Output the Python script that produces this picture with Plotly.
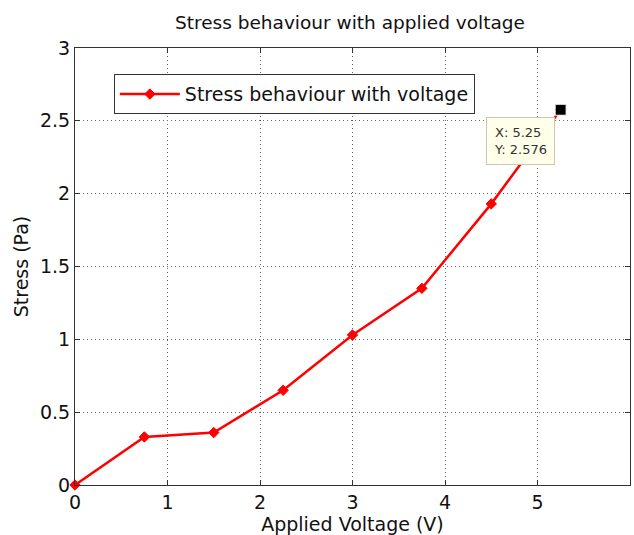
import plotly.graph_objects as go

voltage = [0, 0.75, 1.5, 2.25, 3.0, 3.75, 4.5, 5.25]
stress = [0, 0.33, 0.36, 0.65, 1.03, 1.35, 1.93, 2.576]
tip_x = 5.25
tip_y = 2.576
x_ticks = [0, 1, 2, 3, 4, 5, 6]
y_ticks = [0, 0.5, 1, 1.5, 2, 2.5, 3]
y_tick_text = ["0", "0.5", "1", "1.5", "2", "2.5", "3"]

font = "DejaVu Sans"
fig = go.Figure()
fig.add_trace(go.Scatter(
    x=voltage, y=stress, mode="lines+markers",
    name="Stress behaviour with voltage",
    line=dict(color="#ff0000", width=2.5),
    marker=dict(symbol="diamond", size=8, color="#ff0000",
                line=dict(color="#ff0000", width=1)),
    cliponaxis=False,
))
fig.add_trace(go.Scatter(
    x=[tip_x], y=[tip_y], mode="markers", showlegend=False,
    marker=dict(symbol="square", size=11, color="black",
                line=dict(color="white", width=1)),
    cliponaxis=False,
))
fig.add_annotation(
    x=4.445, y=2.526, xref="x", yref="y",
    text=f"X: {tip_x}<br>Y: {tip_y}", showarrow=False,
    xanchor="left", yanchor="top",
    align="left", font=dict(family=font, size=13, color="#333"),
    bgcolor="#ffffea", bordercolor="#c8c8b4", borderwidth=1, borderpad=7,
)
axis_common = dict(
    showline=True, linecolor="#333", linewidth=1, mirror="ticks",
    ticks="inside", ticklen=5, tickcolor="#333",
    showgrid=True, gridcolor="#666", griddash="1px,3px", gridwidth=1,
    zeroline=False, tickfont=dict(family=font, size=19, color="#111"),
)
fig.update_xaxes(range=[0, 6], tickvals=x_ticks, **axis_common,
                 title=dict(text="Applied Voltage (V)", standoff=0,
                            font=dict(family=font, size=19, color="#111")))
fig.update_yaxes(range=[0, 3], tickvals=y_ticks, ticktext=y_tick_text, **axis_common,
                 title=dict(text="Stress (Pa)", standoff=6,
                            font=dict(family=font, size=19, color="#111")))
fig.update_layout(
    width=634, height=535,
    margin=dict(l=75, r=4, t=48, b=50),
    paper_bgcolor="white", plot_bgcolor="white",
    title=dict(text="Stress behaviour with applied voltage", x=0.552, xanchor="center",
               y=0.958, yanchor="middle",
               font=dict(family=font, size=18.5, color="#111")),
    legend=dict(x=0.07, y=0.94, xanchor="left", yanchor="top",
                bgcolor="white", bordercolor="#333", borderwidth=1,
                font=dict(family=font, size=19, color="#111"),
                itemwidth=60, tracegroupgap=0),
    showlegend=True,
)
fig.write_html("out.html")
